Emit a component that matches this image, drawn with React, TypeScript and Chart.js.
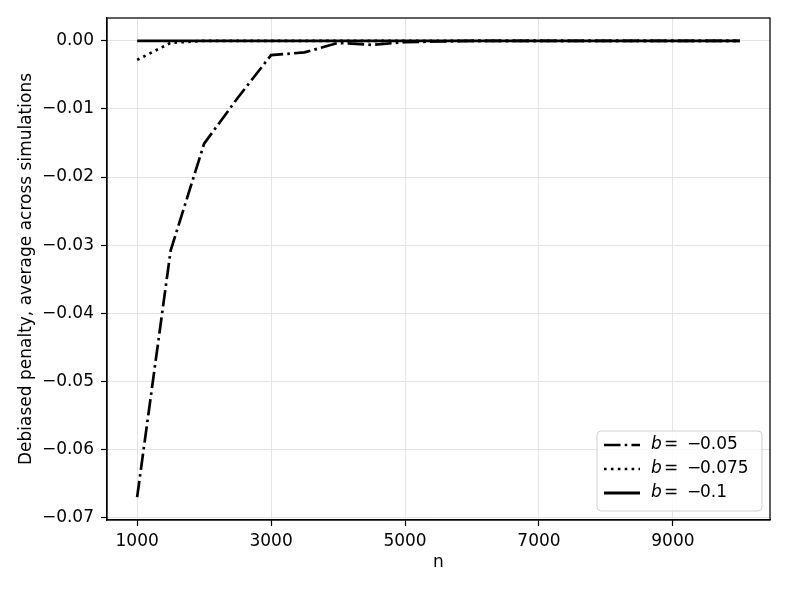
import React, { useEffect, useRef } from 'react';
import { Chart, registerables } from 'chart.js';

Chart.register(...registerables);

// ---- data ----
const nValues = [1000, 1500, 2000, 2500, 3000, 3500, 4000, 4500, 5000, 5500, 6000, 6500, 7000, 7500, 8000, 8500, 9000, 9500, 10000];
const seriesB005 = [-0.067, -0.0308, -0.0151, -0.0084, -0.0021, -0.0017, -0.0003, -0.0006, -0.0002, -0.0001, 0, 0, 0, 0, 0, 0, 0, 0, 0];
const seriesB0075 = [-0.0028, -0.0003, 0, 0, 0, 0, 0, 0, 0, 0, 0, 0, 0, 0, 0, 0, 0, 0, 0];
const seriesB01 = [0, 0, 0, 0, 0, 0, 0, 0, 0, 0, 0, 0, 0, 0, 0, 0, 0, 0, 0];
const legendValues = ['0.05', '0.075', '0.1'];
const xTicks = [1000, 3000, 5000, 7000, 9000];
const yTicks = [0, -0.01, -0.02, -0.03, -0.04, -0.05, -0.06, -0.07];
const xTitle = 'n';
const yTitle = 'Debiased penalty, average across simulations';

const FONT = "'DejaVu Sans', sans-serif";

export default function App() {
  const ref = useRef<HTMLCanvasElement>(null);

  useEffect(() => {
    const canvas = ref.current!;
    const pts = (ys: number[]) => nValues.map((x, i) => ({ x, y: ys[i] }));

    const frame = {
      id: 'frame',
      afterDraw(chart: any) {
        const { ctx, chartArea: a } = chart;
        ctx.save();
        ctx.strokeStyle = '#000';
        ctx.lineWidth = 1.25;
        ctx.strokeRect(a.left, a.top, a.right - a.left, a.bottom - a.top);
        ctx.restore();
      },
    };

    const legendBox = {
      id: 'legendBox',
      afterDraw(chart: any) {
        const { ctx } = chart;
        const x0 = 597, y0 = 431, w = 165, h = 80, r = 4;
        ctx.save();
        ctx.beginPath();
        ctx.moveTo(x0 + r, y0);
        ctx.arcTo(x0 + w, y0, x0 + w, y0 + h, r);
        ctx.arcTo(x0 + w, y0 + h, x0, y0 + h, r);
        ctx.arcTo(x0, y0 + h, x0, y0, r);
        ctx.arcTo(x0, y0, x0 + w, y0, r);
        ctx.closePath();
        ctx.fillStyle = 'rgba(255,255,255,0.8)';
        ctx.fill();
        ctx.strokeStyle = '#d0d0d0';
        ctx.lineWidth = 1;
        ctx.stroke();
        const rows = [445, 469, 493];
        chart.data.datasets.forEach((ds: any, i: number) => {
          const y = rows[i];
          ctx.beginPath();
          ctx.setLineDash(ds.borderDash || []);
          ctx.lineCap = 'butt';
          ctx.lineWidth = ds.borderWidth;
          ctx.strokeStyle = '#000';
          ctx.moveTo(604, y);
          ctx.lineTo(640, y);
          ctx.stroke();
          ctx.setLineDash([]);
          ctx.fillStyle = '#000';
          ctx.textBaseline = 'middle';
          ctx.textAlign = 'left';
          ctx.font = `italic 17px ${FONT}`;
          ctx.fillText('b', 651, y);
          ctx.font = `17px ${FONT}`;
          ctx.fillText('=', 664, y);
          ctx.fillText('\u2212', 687, y);
          ctx.fillText(legendValues[i], 700, y);
        });
        ctx.restore();
      },
    };

    const chart = new Chart(canvas, {
      type: 'line',
      data: {
        datasets: [
          {
            label: 'b = −0.05',
            data: pts(seriesB005),
            borderColor: '#000',
            borderWidth: 2.7,
            borderDash: [16.5, 4.2, 2.6, 4.2],
            borderCapStyle: 'butt',
            pointRadius: 0,
            tension: 0,
            order: 2,
          },
          {
            label: 'b = −0.075',
            data: pts(seriesB0075),
            borderColor: '#000',
            borderWidth: 2.7,
            borderDash: [2.6, 4.3],
            borderCapStyle: 'butt',
            pointRadius: 0,
            tension: 0,
            order: 1,
          },
          {
            label: 'b = −0.1',
            data: pts(seriesB01),
            borderColor: '#000',
            borderWidth: 2.8,
            borderCapStyle: 'butt',
            pointRadius: 0,
            tension: 0,
            order: 0,
          },
        ],
      },
      options: {
        responsive: false,
        animation: false,
        devicePixelRatio: 1,
        layout: { padding: { left: 0, right: 19, top: 18, bottom: 0 } },
        plugins: { legend: { display: false }, tooltip: { enabled: false } },
        scales: {
          x: {
            type: 'linear',
            min: 550,
            max: 10450,
            afterBuildTicks: (s: any) => { s.ticks = xTicks.map((v) => ({ value: v })); },
            afterFit: (s: any) => { s.height = 72; },
            grid: { color: '#e4e4e4', lineWidth: 1, drawTicks: true, tickLength: 6, tickColor: '#000', tickWidth: 1.2 },
            border: { display: true, color: '#000', width: 1.25 },
            ticks: {
              color: '#000',
              font: { family: FONT, size: 17 },
              padding: 5,
              maxRotation: 0,
              autoSkip: false,
              callback: (v: any) => String(v),
            },
            title: { display: true, text: xTitle, color: '#000', font: { family: FONT, size: 17 }, padding: { top: 4, bottom: 19 } },
          },
          y: {
            type: 'linear',
            min: -0.07035,
            max: 0.00335,
            afterBuildTicks: (s: any) => { s.ticks = yTicks.map((v) => ({ value: v })); },
            afterFit: (s: any) => { s.width = 107; },
            grid: { color: '#e4e4e4', lineWidth: 1, drawTicks: true, tickLength: 6, tickColor: '#000', tickWidth: 1.2 },
            border: { display: true, color: '#000', width: 1.25 },
            ticks: {
              color: '#000',
              font: { family: FONT, size: 17 },
              padding: 7,
              autoSkip: false,
              callback: (v: any) => {
                const n = Number(v);
                if (Math.abs(n) < 1e-9) return '0.00';
                return (n < 0 ? '\u2212' : '') + Math.abs(n).toFixed(2);
              },
            },
            title: { display: true, text: yTitle, color: '#000', font: { family: FONT, size: 17 }, padding: { top: 16, bottom: 4 } },
          },
        },
      } as any,
      plugins: [frame, legendBox],
    });

    return () => chart.destroy();
  }, []);

  return (
    <div style={{ position: 'fixed', left: 0, top: 0, width: 789, height: 592, background: '#fff' }}>
      <canvas ref={ref} width={789} height={592} style={{ display: 'block' }} />
    </div>
  );
}
